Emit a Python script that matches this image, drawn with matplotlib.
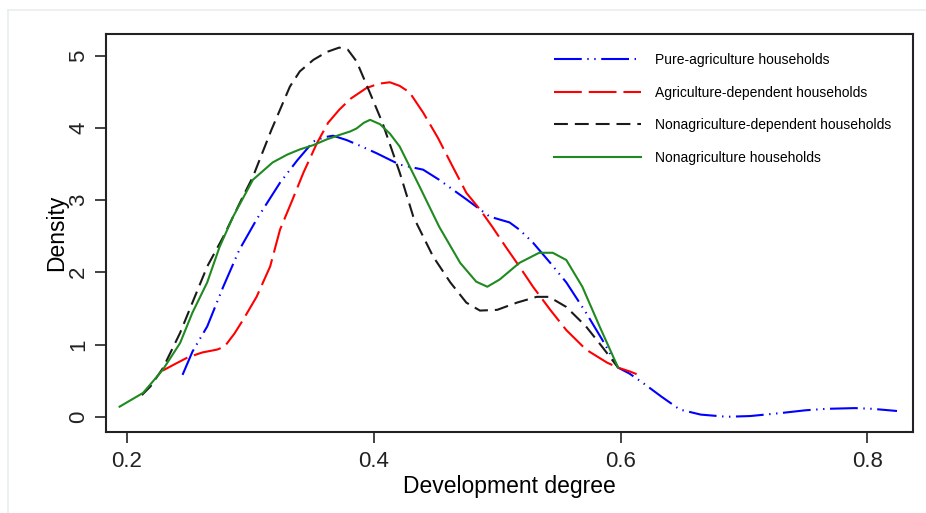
import matplotlib
matplotlib.use("Agg")
import matplotlib.pyplot as plt
from matplotlib.lines import Line2D

plt.rcParams['font.family'] = ['Liberation Sans', 'DejaVu Sans']
plt.rcParams['lines.scale_dashes'] = False

# pure-agriculture households
x_pure = [0.245, 0.253, 0.265, 0.278, 0.291, 0.305, 0.324, 0.338, 0.351, 0.360, 0.367,
          0.378, 0.389, 0.402, 0.421, 0.440, 0.453, 0.475, 0.494, 0.510, 0.518, 0.529,
          0.543, 0.556, 0.572, 0.585, 0.598, 0.607, 0.618, 0.633, 0.648, 0.665, 0.686,
          0.705, 0.729, 0.750, 0.767, 0.790, 0.804, 0.824]
y_pure = [0.58, 0.90, 1.25, 1.80, 2.31, 2.73, 3.24, 3.55, 3.81, 3.87, 3.89,
          3.83, 3.75, 3.65, 3.49, 3.42, 3.28, 3.01, 2.77, 2.69, 2.59, 2.41,
          2.13, 1.86, 1.44, 1.07, 0.68, 0.60, 0.47, 0.28, 0.10, 0.03, 0.00,
          0.01, 0.05, 0.09, 0.11, 0.12, 0.11, 0.08]

# agriculture-dependent households
x_agdep = [0.229, 0.240, 0.249, 0.261, 0.273, 0.279, 0.287, 0.294, 0.305, 0.316, 0.324,
           0.334, 0.343, 0.354, 0.363, 0.372, 0.381, 0.394, 0.404, 0.413, 0.421, 0.429,
           0.440, 0.452, 0.464, 0.475, 0.486, 0.496, 0.507, 0.518, 0.529, 0.543, 0.556,
           0.572, 0.589, 0.598, 0.607, 0.613]
y_agdep = [0.64, 0.74, 0.82, 0.89, 0.93, 0.97, 1.15, 1.34, 1.66, 2.08, 2.59,
           3.00, 3.38, 3.79, 4.07, 4.25, 4.40, 4.55, 4.61, 4.63, 4.58, 4.49,
           4.21, 3.86, 3.46, 3.10, 2.87, 2.63, 2.35, 2.08, 1.80, 1.48, 1.20,
           0.93, 0.75, 0.68, 0.63, 0.59]

# nonagriculture-dependent households
x_nonagdep = [0.212, 0.219, 0.229, 0.243, 0.253, 0.265, 0.278, 0.294, 0.302, 0.317, 0.332,
              0.340, 0.351, 0.362, 0.372, 0.379, 0.386, 0.394, 0.407, 0.421, 0.432, 0.448,
              0.462, 0.475, 0.486, 0.500, 0.516, 0.532, 0.542, 0.556, 0.572, 0.585, 0.598]
y_nonagdep = [0.30, 0.42, 0.67, 1.16, 1.58, 2.08, 2.49, 3.05, 3.32, 3.97, 4.57,
              4.78, 4.94, 5.05, 5.11, 5.08, 4.92, 4.60, 4.07, 3.38, 2.77, 2.22,
              1.86, 1.58, 1.47, 1.48, 1.58, 1.66, 1.66, 1.52, 1.25, 0.97, 0.68]

# nonagriculture households
x_nonag = [0.194, 0.213, 0.229, 0.243, 0.253, 0.265, 0.275, 0.286, 0.302, 0.318, 0.330,
           0.340, 0.351, 0.362, 0.372, 0.381, 0.386, 0.392, 0.397, 0.405, 0.413, 0.421,
           0.437, 0.453, 0.470, 0.483, 0.492, 0.502, 0.518, 0.534, 0.545, 0.556, 0.569,
           0.583, 0.598]
y_nonag = [0.14, 0.33, 0.65, 1.02, 1.44, 1.86, 2.35, 2.77, 3.28, 3.52, 3.63,
           3.70, 3.76, 3.84, 3.90, 3.95, 3.99, 4.07, 4.11, 4.05, 3.92, 3.74,
           3.19, 2.63, 2.13, 1.87, 1.80, 1.90, 2.13, 2.27, 2.27, 2.17, 1.80,
           1.25, 0.68]

labels = ["Pure-agriculture households", "Agriculture-dependent households",
          "Nonagriculture-dependent households", "Nonagriculture households"]
xticks = [0.2, 0.4, 0.6, 0.8]
yticks = [0, 1, 2, 3, 4, 5]

fig = plt.figure(figsize=(9.26, 5.13), dpi=100)
ax = fig.add_axes([0.1145, 0.158, 0.8715, 0.776])

# faint screenshot frame
fig.add_artist(Line2D([8/926, 1], [1 - 10/513, 1 - 10/513], color="#e6efec", lw=1.2))
fig.add_artist(Line2D([8/926, 8/926], [0, 1 - 10/513], color="#e6efec", lw=1.2))

lw = 1.5
ax.plot(x_pure, y_pure, color="#0000ff", lw=lw, dashes=(20, 4, 1, 4, 1, 4), label=labels[0])
ax.plot(x_agdep, y_agdep, color="#ff0000", lw=lw, dashes=(20, 5), label=labels[1])
ax.plot(x_nonagdep, y_nonagdep, color="#1a1a1a", lw=lw, dashes=(10, 5), label=labels[2])
ax.plot(x_nonag, y_nonag, color="#1f8a1f", lw=lw, label=labels[3])

ax.set_xlim(0.183, 0.837)
ax.set_ylim(-0.21, 5.30)
ax.set_xticks(xticks)
ax.set_xticklabels([str(t) for t in xticks], fontsize=16)
ax.set_yticks(yticks)
ax.set_yticklabels([str(t) for t in yticks], fontsize=16, rotation=90, va="center")
ax.tick_params(direction="out", length=8, width=1.2, colors="#222222")
ax.tick_params(axis="x", pad=6)
ax.tick_params(axis="y", pad=4)
for s in ax.spines.values():
    s.set_linewidth(1.5)
    s.set_color("#222222")

ax.set_xlabel("Development degree", fontsize=16.5, labelpad=2)
ax.set_ylabel("Density", fontsize=16.5, labelpad=0)

ax.legend(loc="upper left", bbox_to_anchor=(0.548, 0.965), frameon=False, fontsize=10,
          handlelength=6.26, handletextpad=1.0, labelspacing=1.33, borderaxespad=0)

fig.savefig("out.png", dpi=100)
